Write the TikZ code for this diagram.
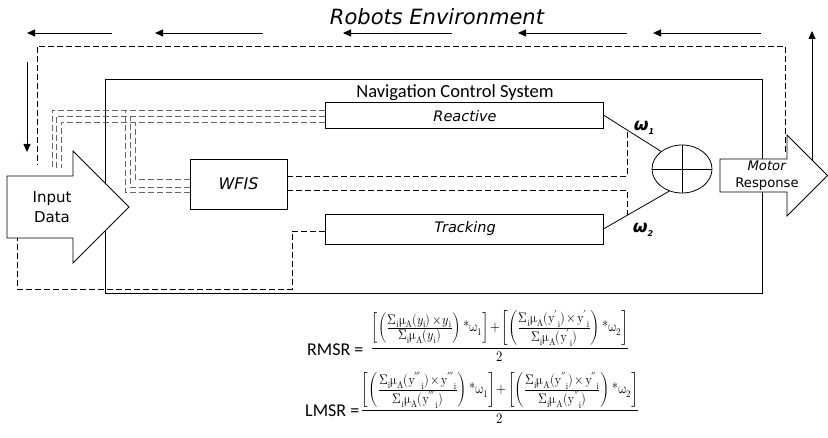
\documentclass[tikz,border=0pt]{standalone}
\usepackage{amsmath}
\usepackage{graphicx}
\usepackage{unicode-math}
\setmathfont{Latin Modern Math}
\newfontfamily\dsans{DejaVu Sans}
\newfontfamily\calib{Carlito}
\usetikzlibrary{arrows.meta,shapes.geometric,calc}

\newcommand{\sumi}{\Sigma_{\mathrm{i}}}
\newcommand{\muA}{\upmu_{\mathrm{A}}}
\newcommand{\yi}[1]{{\mathrm{y}#1}_{\mathrm{i}}}
\newcommand{\wstar}{\mbox{\fontsize{14.5}{16}\selectfont *}}
% compact fraction with full-size numerator and denominator
\newcommand{\ifr}[2]{\text{\fontsize{13.8}{15}\selectfont\medmuskip=2mu$\frac{\displaystyle #1}{\displaystyle #2}$}}
\newcommand{\mixfrac}[2]{\scalebox{0.88}[1]{\fontsize{14.5}{16}\selectfont\medmuskip=2mu$\dfrac{#1}{#2}$}}

\begin{document}
\begin{tikzpicture}[x=1pt,y=-1pt,
  thin line/.style={line width=0.8pt},
  blockbox/.style={draw,line width=0.8pt,fill=white,inner sep=0pt},
  dline/.style={line width=0.8pt,dash pattern=on 6pt off 3pt},
  gline/.style={line width=0.8pt,dash pattern=on 6pt off 3pt,draw=black!60},
  flow/.style={line width=0.8pt,-{Triangle[length=8pt,width=7pt]}},
  bigarrow/.style={draw,line width=0.8pt,fill=white,line join=miter},
  lbl/.style={inner sep=0pt,font=\dsans\itshape\fontsize{14.5}{16}\selectfont},
  omega/.style={inner sep=0pt,font=\dsans\itshape\bfseries\fontsize{17}{17}\selectfont}
]
\useasboundingbox (0,0) rectangle (828,438);

% title
\node[inner sep=0pt,font=\dsans\itshape\fontsize{21}{23}\selectfont] (title) at (437,17) {Robots Environment};

% environment flow arrows (right to left)
\foreach \s/\e [count=\k] in {112/27,263/155,452/343,627/518,761/653}{
  \coordinate (ea\k) at (\s,33);
  \coordinate (eb\k) at (\e,33);
  \draw[flow] (ea\k) -- (eb\k);
}
\coordinate (dn1) at (27,62);  \coordinate (dn2) at (27,152);
\draw[flow] (dn1) -- (dn2);
\coordinate (up1) at (812,160); \coordinate (up2) at (812,31);
\draw[flow] (up1) -- (up2);

% navigation control system frame
\node[draw,line width=0.8pt,minimum width=657pt,minimum height=214pt,inner sep=0pt] (ncs) at (433.5,186) {};
\node[inner sep=0pt,font=\calib\fontsize{18.5}{20}\selectfont] (ncslbl) at (455,93) {Navigation Control System};

% blocks
\node[blockbox,minimum width=278pt,minimum height=26pt] (reactive) at (464,115) {};
\node[lbl] at (465,116) {Reactive};
\node[blockbox,minimum width=278pt,minimum height=30pt] (tracking) at (464,229) {};
\node[lbl] at (465,229) {Tracking};
\node[blockbox,minimum width=97pt,minimum height=50pt] (wfis) at (238.5,184) {};
\node[lbl,font=\dsans\itshape\fontsize{16}{18}\selectfont] at (wfis) {WFIS};
\node[ellipse,draw,line width=0.8pt,minimum width=60pt,minimum height=48pt,inner sep=0pt] (sum) at (682,169) {};
\draw[thin line] (sum.north) -- (sum.south);
\draw[thin line] (sum.west) -- (sum.east);

% weighted branches into the summing junction
\draw[thin line] (reactive.east) -- (sum.140);
\draw[thin line] (tracking.east) -- (sum.240);
\coordinate (j1) at ($(reactive.east)!0.41!(sum.140)$);
\coordinate (j2) at ($(tracking.east)!0.36!(sum.240)$);
\draw[dline] ($(wfis.east)+(0,-8)$) -| (j1);
\draw[dline] ($(wfis.east)+(0,6)$) -| (j2);

\node[omega] (w1) at (644,128) {ω\raisebox{-4pt}{\fontsize{8}{8}\selectfont 1}};
\node[omega] (w2) at (643,230) {ω\raisebox{-4pt}{\fontsize{8}{8}\selectfont 2}};

% feedback from the reactive layer to the input and to WFIS
\coordinate (fa) at (52,168);
\coordinate (fb) at (56,168);
\coordinate (fc) at (61,168);
\draw[gline] ($(reactive.west)+(0,-5)$) -| (fa);
\draw[gline] ($(reactive.west)+(0,1)$) -| (fb);
\draw[gline] ($(reactive.west)+(0,7)$) -| (fc);
\coordinate (ga) at (125,110);
\coordinate (gb) at (130,116);
\coordinate (gc) at (135,122);
\draw[gline] ($(wfis.west)+(0,8)$) -| (ga);
\draw[gline] ($(wfis.west)+(0,3)$) -| (gb);
\draw[gline] ($(wfis.west)+(0,-5)$) -| (gc);

% tracking loop back to the input
\coordinate (tb) at (292,289);
\coordinate (inb) at (17,238);
\draw[dline] ($(tracking.west)+(0,2)$) -| (tb) -| (inb);

% outer loop through the environment
\coordinate (mtop) at (785,152);
\coordinate (tl) at (37,46);
\coordinate (intop) at (37,165);
\draw[dline] (mtop) |- (tl) -- (intop);

% input and output arrows
\draw[bigarrow] (7,176) -- (73,176) -- (73,151) -- (129,207) -- (73,263) -- (73,238) -- (7,238) -- cycle;
\node[inner sep=0pt,align=center,font=\dsans\fontsize{15}{20}\selectfont] (inlbl) at (52,207) {Input\\Data};
\draw[bigarrow] (720,159) -- (787,159) -- (787,135) -- (827.5,175.5) -- (787,216) -- (787,192) -- (720,192) -- cycle;
\node[inner sep=0pt,align=center,font=\dsans\fontsize{13.2}{17}\selectfont] (outlbl) at (767,176) {\textit{Motor}\\Response};

% mean scaled results
\node[inner sep=0pt,anchor=base west,font=\calib\fontsize{18}{20}\selectfont] (rmsrlbl) at (307,356) {RMSR =};
\node[inner sep=0pt,anchor=base] (rmsr) at (500,352)
{\mixfrac{\left[\left(\ifr{\sumi\muA(y_{\mathrm{i}})\times y_{\mathrm{i}}}{\sumi\muA(y_{\mathrm{i}})}\right)\wstar\upomega_1\right]+\left[\left(\ifr{\sumi\muA(\yi{'})\times \yi{'}}{\sumi\muA(\yi{'})}\right)\wstar\upomega_2\right]}{2}};
\node[inner sep=0pt,anchor=base west,font=\calib\fontsize{18}{20}\selectfont] (lmsrlbl) at (305,417) {LMSR =};
\node[inner sep=0pt,anchor=base] (lmsr) at (500,414)
{\mixfrac{\left[\left(\ifr{\sumi\muA(\yi{'''})\times \yi{'''}}{\sumi\muA(\yi{'''})}\right)\wstar\upomega_1\right]+\left[\left(\ifr{\sumi\muA(\yi{''})\times \yi{''}}{\sumi\muA(\yi{''})}\right)\wstar\upomega_2\right]}{2}};
\end{tikzpicture}
\end{document}
